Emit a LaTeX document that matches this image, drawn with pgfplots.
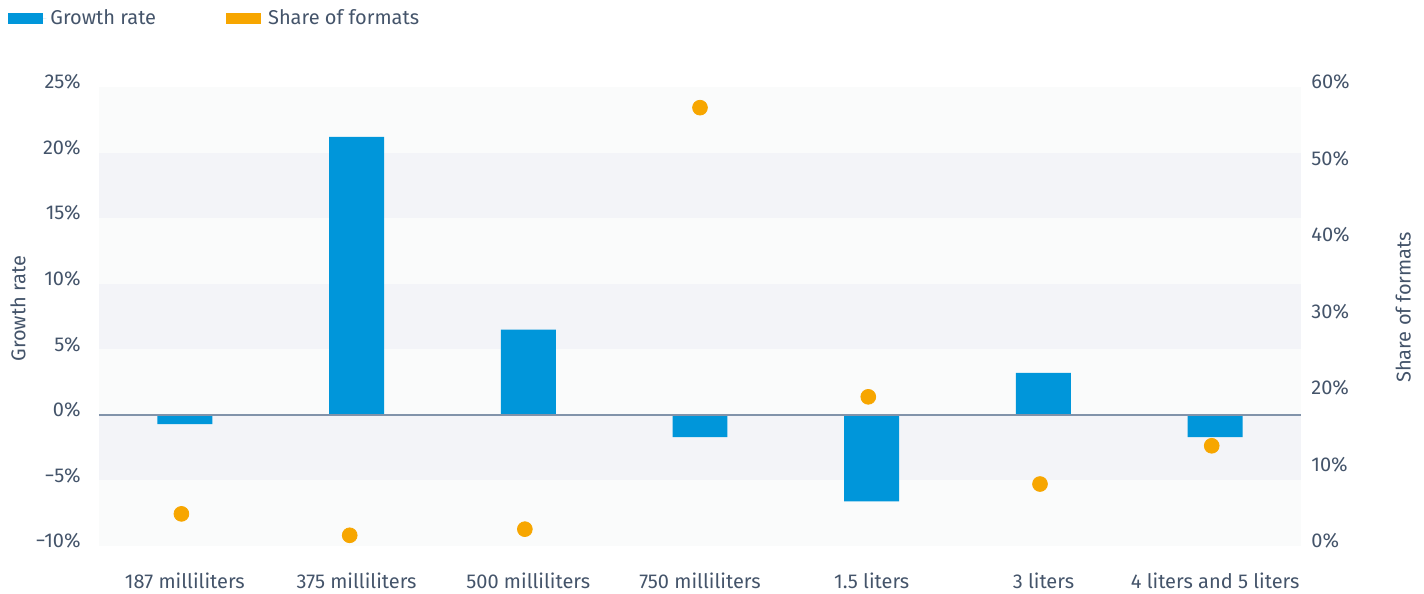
\documentclass[border=0pt]{standalone}
\usepackage{pgfplots}
\pgfplotsset{compat=1.18}
\usepackage{fontspec}
\setmainfont{Fira Sans}

\definecolor{textc}{HTML}{44546A}
\definecolor{barblue}{HTML}{0096DA}
\definecolor{dotorange}{HTML}{F7A600}
\definecolor{bandlight}{HTML}{FAFBFB}
\definecolor{bandgray}{HTML}{F3F4F8}
\definecolor{zeroline}{HTML}{8193AA}

\begin{document}
\begin{tikzpicture}[font=\fontsize{10}{12}\selectfont, text=textc]
% left axis: growth rate bars
\begin{axis}[
    at={(0,0)}, anchor=south west,
    scale only axis, width=601pt, height=229.5pt,
    xmin=-0.5, xmax=6.5, ymin=-10, ymax=25,
    axis line style={draw=none},
    major tick length=0pt,
    xtick={0,1,2,3,4,5,6},
    xticklabels={187 milliliters,375 milliliters,500 milliliters,750 milliliters,1.5 liters,3 liters,4 liters and 5 liters},
    xticklabel style={anchor=center, inner sep=0pt, yshift=-17.5pt},
    ytick={-10,-5,0,5,10,15,20,25},
    yticklabels={−10\%,−5\%,0\%,5\%,10\%,15\%,20\%,25\%},
    yticklabel style={anchor=east, inner sep=0pt, xshift=-9pt, yshift=2.5pt},
    ylabel={Growth rate},
    ylabel style={at={(axis description cs:-0.0674,0.517)}, anchor=center},
    legend columns=2,
    legend style={at={(axis description cs:-0.0757,1.150)}, anchor=west,
        draw=none, fill=none, inner sep=0pt,
        /tikz/every even column/.append style={column sep=33pt}},
    legend cell align=left,
]
% background bands
\fill[bandlight] (axis cs:-0.5,-10) rectangle (axis cs:6.5,-5);
\fill[bandgray]  (axis cs:-0.5,-5)  rectangle (axis cs:6.5,0);
\fill[bandlight] (axis cs:-0.5,0)   rectangle (axis cs:6.5,5);
\fill[bandgray]  (axis cs:-0.5,5)   rectangle (axis cs:6.5,10);
\fill[bandlight] (axis cs:-0.5,10)  rectangle (axis cs:6.5,15);
\fill[bandgray]  (axis cs:-0.5,15)  rectangle (axis cs:6.5,20);
\fill[bandlight] (axis cs:-0.5,20)  rectangle (axis cs:6.5,25);

\addplot[ybar, bar width=0.32, fill=barblue, draw=none,
    legend image code/.code={\fill[barblue] (0pt,-2.75pt) rectangle (17.5pt,2.75pt);
        \path[draw=none] (0pt,0pt) -- (19pt,0pt);}]
coordinates {
    (0,-0.7)
    (1,21.2)
    (2,6.5)
    (3,-1.7)
    (4,-6.6)
    (5,3.2)
    (6,-1.7)
};
\addlegendentry{Growth rate}
\addlegendimage{draw=none, legend image code/.code={\fill[dotorange] (0pt,-2.75pt) rectangle (17.5pt,2.75pt);
        \path[draw=none] (0pt,0pt) -- (19pt,0pt);}}
\addlegendentry{Share of formats}

\draw[zeroline, line width=1pt] (axis cs:-0.5,0) -- (axis cs:6.5,0);
\end{axis}

% right axis: share of formats dots
\begin{axis}[
    at={(0,0)}, anchor=south west,
    scale only axis, width=601pt, height=229.5pt,
    xmin=-0.5, xmax=6.5, ymin=0, ymax=60,
    axis x line=none,
    axis y line*=right,
    axis line style={draw=none},
    major tick length=0pt,
    ytick={0,10,20,30,40,50,60},
    yticklabels={0\%,10\%,20\%,30\%,40\%,50\%,60\%},
    yticklabel style={anchor=west, inner sep=0pt, xshift=5pt, yshift=2.5pt},
    ylabel={Share of formats},
    ylabel style={at={(axis description cs:1.085,0.52)}, anchor=center},
]
\addplot[only marks, mark=*, mark size=3.7pt, color=dotorange]
coordinates {
    (-0.02,4.2)
    (0.96,1.4)
    (1.98,2.2)
    (3,57.3)
    (3.98,19.5)
    (4.98,8.1)
    (5.98,13.1)
};
\end{axis}

\pgfresetboundingbox
\path[use as bounding box] (-49.5pt,-24pt) rectangle (662.5pt,273pt);
\end{tikzpicture}
\end{document}
